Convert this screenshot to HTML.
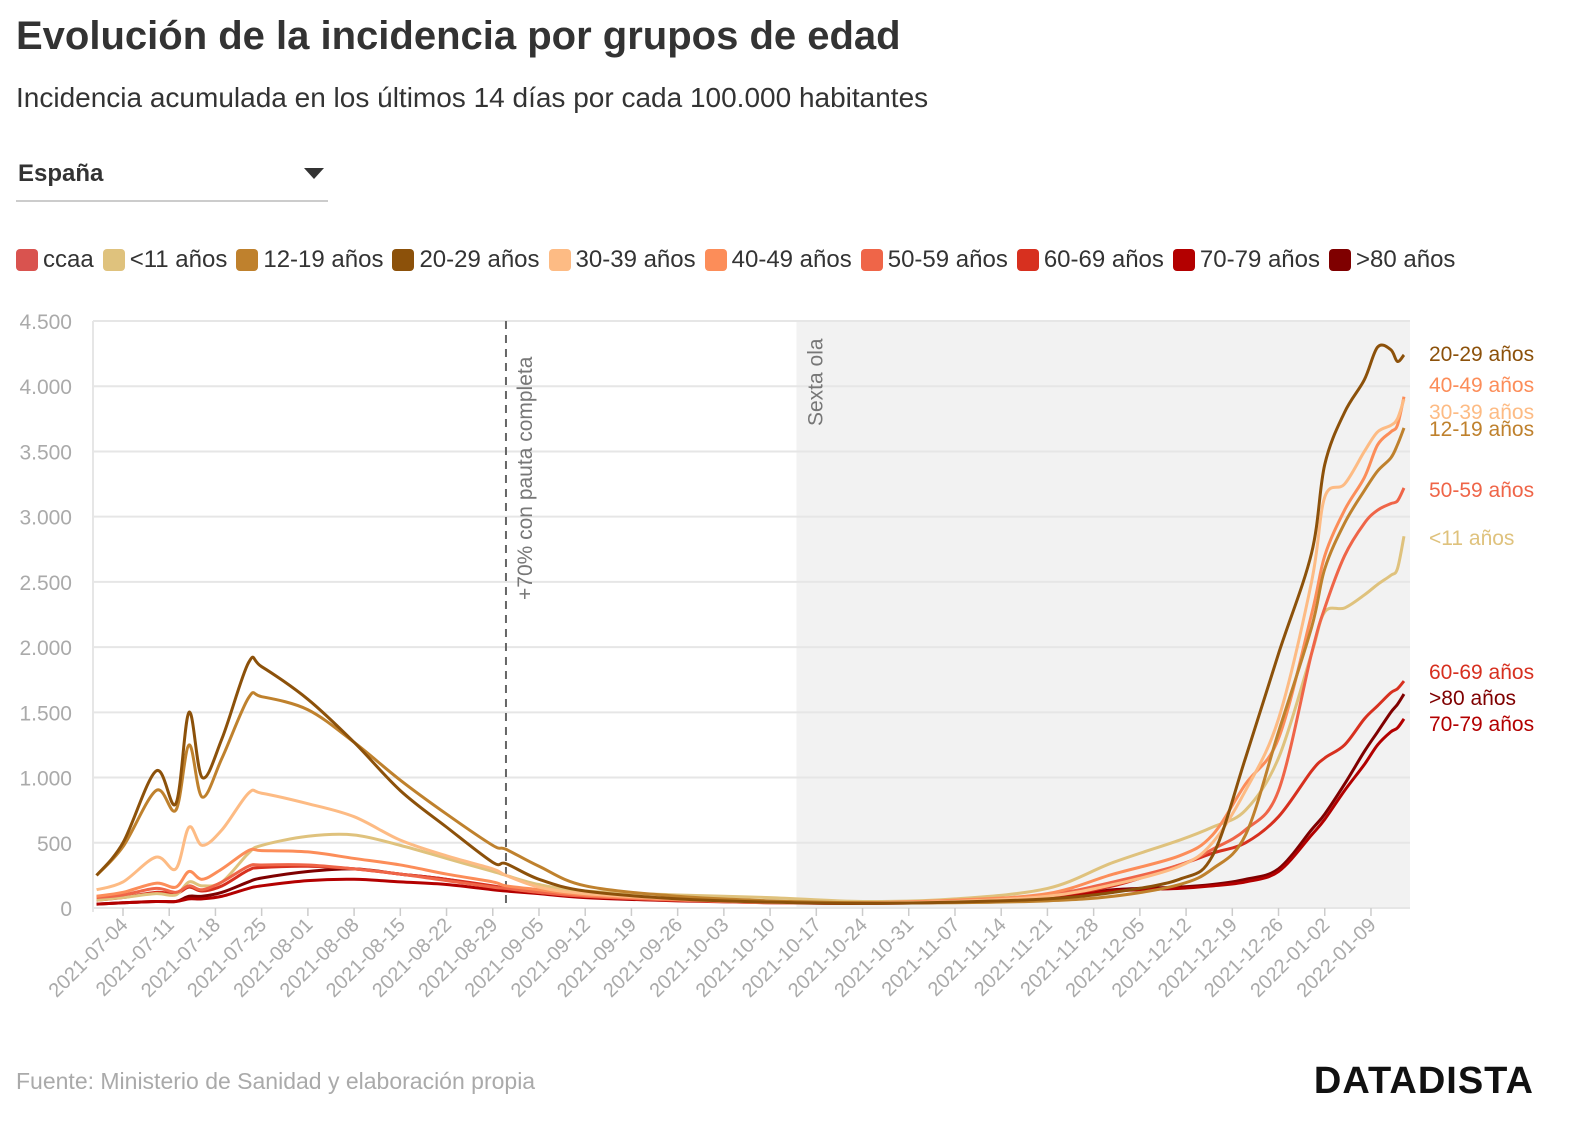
<!DOCTYPE html>
<html><head><meta charset="utf-8"><style>
body{margin:0;background:#fff;width:1586px;height:1136px;overflow:hidden;font-family:"Liberation Sans",sans-serif;}
.t{position:absolute;left:16px;top:14px;font-size:40px;font-weight:bold;color:#333;letter-spacing:0px}
.s{position:absolute;left:16px;top:82px;font-size:28px;color:#333}
.dd{position:absolute;left:16px;top:158px;width:312px;height:42px;border-bottom:2px solid #ccc;font-size:24px;font-weight:bold;color:#333}
.leg{position:absolute;left:16px;top:246px;font-size:24px;color:#333;display:flex;gap:0}
.leg span{display:inline-flex;align-items:center;margin-right:9px}
.leg i{display:inline-block;width:22px;height:22px;border-radius:4px;margin-right:5px}
.src{position:absolute;left:16px;top:1068px;font-size:23px;color:#aaa}
.logo{position:absolute;right:52px;top:1060px;font-size:38px;font-weight:bold;color:#111;letter-spacing:1px}
</style></head><body>
<div class="t">Evolución de la incidencia por grupos de edad</div>
<div class="s">Incidencia acumulada en los últimos 14 días por cada 100.000 habitantes</div>
<div class="dd"><span style="position:absolute;left:2px;top:2px">España</span><span style="position:absolute;right:4px;top:10px;width:0;height:0;border-left:10px solid transparent;border-right:10px solid transparent;border-top:11px solid #333"></span></div>
<div class="leg" id="leg"></div>
<svg id="c" width="1586" height="1136" style="position:absolute;left:0;top:0"></svg>
<div class="src">Fuente: Ministerio de Sanidad y elaboración propia</div>
<div class="logo">DATADISTA</div>
<script>
const days=[-4,0,5,8,10,12,15,19,21,28,35,42,49,56,58,63,70,84,98,112,126,140,150,160,165,170,175,180,182,185,188,190,192,193,194];
const names=["20-29 años","12-19 años","30-39 años","40-49 años","50-59 años","<11 años","60-69 años","70-79 años",">80 años"];
const colors=["#8c510a","#bf812d","#fdbb84","#fc8d59","#ef6548","#dfc27d","#d7301f","#b30000","#7f0000"];
const v2029=[250,500,1050,800,1500,1000,1300,1880,1850,1600,1270,900,620,350,340,220,130,70,45,35,45,70,120,220,400,1150,1950,2720,3400,3800,4050,4300,4280,4190,4240];
const v1219=[250,470,900,750,1250,850,1150,1610,1620,1520,1270,980,720,480,450,320,170,90,55,40,40,55,90,180,300,560,1350,2150,2600,2950,3200,3350,3450,3550,3680];
const v3039=[140,200,390,300,620,480,600,880,880,800,700,520,400,300,250,160,110,70,45,40,50,90,180,320,500,900,1450,2500,3150,3250,3500,3650,3700,3750,3900];
const v4049=[90,120,190,160,280,220,300,440,440,430,380,330,260,200,170,140,100,65,45,40,60,110,260,400,560,950,1300,2250,2700,3050,3300,3550,3650,3700,3920];
const v5059=[80,100,150,120,170,140,200,320,330,330,300,260,210,160,150,120,90,60,40,40,55,100,200,330,450,600,900,1950,2300,2700,2950,3050,3100,3120,3220];
const v11=[60,80,110,100,200,170,200,420,480,550,560,480,380,280,250,180,130,100,80,50,70,150,350,520,620,750,1150,1950,2270,2300,2400,2480,2550,2600,2850];
const v6069=[60,80,120,110,160,130,170,290,310,320,300,260,220,170,150,120,90,60,45,40,55,90,170,330,420,500,700,1050,1150,1250,1450,1550,1650,1680,1740];
const v7079=[30,40,50,50,70,70,90,150,170,210,220,200,180,140,130,110,80,55,40,35,45,70,130,150,170,200,280,560,680,900,1100,1250,1350,1380,1450];
const v80=[30,40,50,50,90,90,120,200,230,280,300,260,220,160,150,120,90,60,45,40,45,75,140,160,180,220,300,600,720,950,1200,1350,1500,1560,1640];
const series=[v2029,v1219,v3039,v4049,v5059,v11,v6069,v7079,v80];
const yTicks=[0,500,1000,1500,2000,2500,3000,3500,4000,4500];
const yLabels=["0","500","1.000","1.500","2.000","2.500","3.000","3.500","4.000","4.500"];
const xTickLabels=["2021-07-04","2021-07-11","2021-07-18","2021-07-25","2021-08-01","2021-08-08","2021-08-15","2021-08-22","2021-08-29","2021-09-05","2021-09-12","2021-09-19","2021-09-26","2021-10-03","2021-10-10","2021-10-17","2021-10-24","2021-10-31","2021-11-07","2021-11-14","2021-11-21","2021-11-28","2021-12-05","2021-12-12","2021-12-19","2021-12-26","2022-01-02","2022-01-09"];
const endLabels=[["20-29 años",0,353],["40-49 años",3,384],["30-39 años",2,411],["12-19 años",1,428],["50-59 años",4,489],["<11 años",5,537],["60-69 años",6,671],[">80 años",8,697],["70-79 años",7,723]];
const legNames=["ccaa","<11 años","12-19 años","20-29 años","30-39 años","40-49 años","50-59 años","60-69 años","70-79 años",">80 años"];
const legCols=["#d9534f","#dfc27d","#bf812d","#8c510a","#fdbb84","#fc8d59","#ef6548","#d7301f","#b30000","#7f0000"];
const X=d=>123+6.603*d, Y=v=>908-v*0.13044;
const NS="http://www.w3.org/2000/svg", svg=document.getElementById('c');
function mk(t,a,p){const e=document.createElementNS(NS,t);for(const k in a)e.setAttribute(k,a[k]);(p||svg).appendChild(e);return e;}
const leg=document.getElementById('leg');
legNames.forEach((n,i)=>{const s=document.createElement('span');


s.innerHTML='<i style="background:'+legCols[i]+'"></i>'+n;leg.appendChild(s);});
const sh=mk('rect',{x:X(102),y:321,width:1410-X(102),height:587,fill:'#f2f2f2'});


yTicks.forEach((t,i)=>{const g=mk('line',{x1:93,x2:1410,y1:Y(t),y2:Y(t),stroke:'#e6e6e6','stroke-width':2});


const l=mk('text',{x:72,y:Y(t)+8,'text-anchor':'end','font-size':21,fill:'#aaa'});l.textContent=yLabels[i];

});
mk('line',{x1:93,x2:93,y1:321,y2:912,stroke:'#e6e6e6','stroke-width':2});
xTickLabels.forEach((s,i)=>{const x=X(i*7);
const g=mk('line',{x1:x,x2:x,y1:908,y2:916,stroke:'#ccc','stroke-width':1.5});


const l=mk('text',{x:x+6,y:926,'text-anchor':'end','font-size':20,fill:'#aaa',transform:'rotate(-45 '+(x+6)+' 926)'});l.textContent=s;

});
const vl=mk('line',{x1:X(58),x2:X(58),y1:321,y2:908,stroke:'#666','stroke-width':2,'stroke-dasharray':'8,6'});


let a=mk('text',{x:X(58)+26,y:600,'font-size':21,fill:'#777',transform:'rotate(-90 '+(X(58)+26)+' 600)'});a.textContent='+70% con pauta completa';


a=mk('text',{x:X(102)+26,y:426,'font-size':21,fill:'#777',transform:'rotate(-90 '+(X(102)+26)+' 426)'});a.textContent='Sexta ola';


function path(vals){const p=days.map((d,i)=>[X(d),Y(vals[i])]);let s='M'+p[0][0]+','+p[0][1];
for(let i=0;i<p.length-1;i++){const p0=p[i-1]||p[i],p1=p[i],p2=p[i+1],p3=p[i+2]||p2;
s+=' C'+(p1[0]+(p2[0]-p0[0])/6)+','+(p1[1]+(p2[1]-p0[1])/6)+' '+(p2[0]-(p3[0]-p1[0])/6)+','+(p2[1]-(p3[1]-p1[1])/6)+' '+p2[0]+','+p2[1];}return s;}
for(let i=series.length-1;i>=0;i--){const e=mk('path',{d:path(series[i]),fill:'none',stroke:colors[i],'stroke-width':3,'stroke-linejoin':'round'});

}
endLabels.forEach(([n,ci,y])=>{const t=mk('text',{x:1429,y:y+8,'font-size':21,fill:colors[ci]});t.textContent=n;

});
</script>
</body></html>
